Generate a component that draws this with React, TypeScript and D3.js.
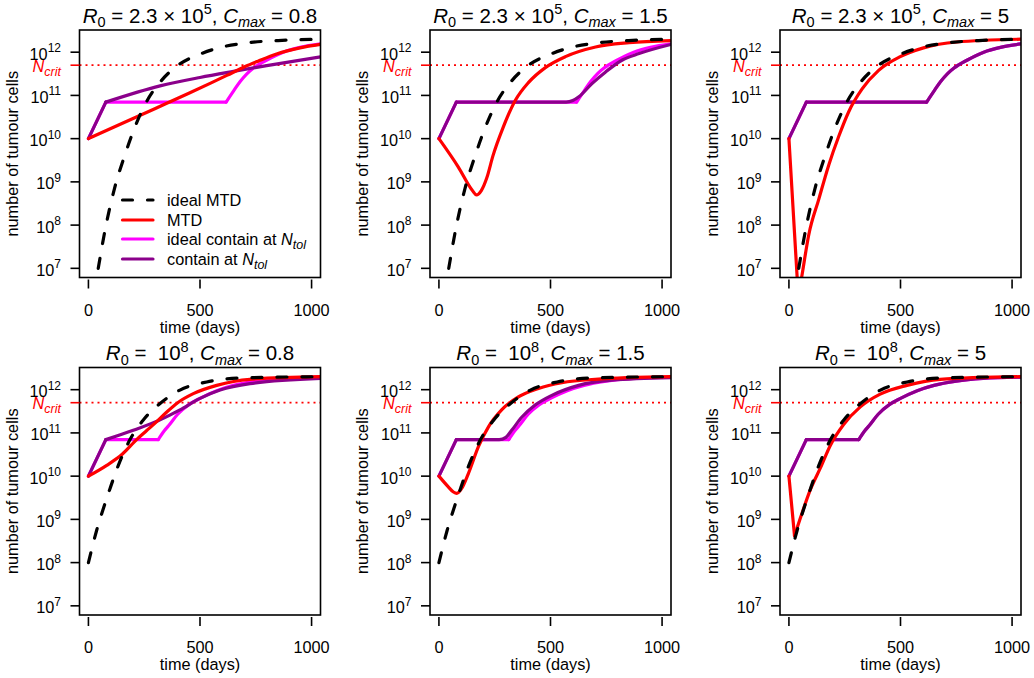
import React from 'react';
import * as d3 from 'd3';

type Pt = [number, number];

// ---------- axes / reference values ----------
const X_LIM: [number, number] = [0, 1000];
const Y_LIM: [number, number] = [1e7, 2e12];
const X_TICKS = [0, 500, 1000];
const Y_TICK_EXPONENTS = [7, 8, 9, 10, 11, 12];
const N_CRIT = 5e11;

const ROW_R0_TEXT = ['2.3 × 10', ' 10'];
const ROW_R0_EXP = ['5', '8'];
const COL_CMAX = ['0.8', '1.5', '5'];

const LEGEND_LABELS = ['ideal MTD', 'MTD', 'ideal contain at ', 'contain at '];
const LEGEND_HAS_NTOL = [false, false, true, true];

// ---------- series (time in days, number of tumour cells) ----------
// top row (R0 = 2.3e5)
const TOP_IDEAL_MTD: Pt[] = [[44, 1e7], [75, 7.9e7], [117, 7.1e8], [162, 4.0e9], [207, 1.78e10], [260, 7.1e10], [327, 2.2e11], [402, 5.0e11], [507, 9.3e11], [600, 1.32e12], [700, 1.62e12], [850, 1.86e12], [1040, 2.0e12]];
const TOP_IDEAL_CONTAIN: Pt[] = [[0, 1e10], [78, 7e10], [617, 7e10], [650, 1.26e11], [680, 2.1e11], [710, 3.16e11], [740, 4.3e11], [800, 6.6e11], [873, 1.0e12], [948, 1.29e12], [1040, 1.55e12]];
const TOP_IDEAL_CONTAIN_KINKS = [78, 617];

const P1_MTD: Pt[] = [[0, 1e10], [150, 2.24e10], [300, 5.0e10], [450, 1.12e11], [550, 1.95e11], [620, 2.9e11], [700, 4.6e11], [760, 6.2e11], [843, 9.1e11], [948, 1.26e12], [1040, 1.51e12]];
const P1_CONTAIN: Pt[] = [[0, 1e10], [78, 7e10], [321, 1.66e11], [500, 2.6e11], [650, 3.6e11], [799, 4.9e11], [1040, 7.8e11]];
const P1_CONTAIN_KINKS = [78];

const P2_MTD: Pt[] = [[0, 1e10], [87, 2.2e9], [150, 6.3e8], [168, 5.0e8], [190, 6.3e8], [215, 1.26e9], [242, 4.0e9], [287, 1.78e10], [342, 7.6e10], [402, 2.0e11], [477, 4.4e11], [567, 7.9e11], [702, 1.32e12], [852, 1.66e12], [1040, 1.86e12]];
const P2_CONTAIN: Pt[] = [[0, 1e10], [78, 7e10], [570, 7e10], [600, 7.6e10], [627, 9.3e10], [687, 1.9e11], [747, 3.5e11], [822, 6.6e11], [897, 9.3e11], [1040, 1.51e12]];
const P2_CONTAIN_KINKS = [78];

const P3_MTD: Pt[] = [[0, 1e10], [42, 2.2e6], [57, 6.2e6], [89, 6.0e7], [134, 4.0e8], [179, 2.5e9], [223, 1.12e10], [268, 4.2e10], [328, 1.41e11], [402, 3.8e11], [499, 7.9e11], [603, 1.26e12], [752, 1.72e12], [1040, 2.0e12]];
const P3_MTD_KINKS = [42];

// bottom row (R0 = 1e8)
const BOT_IDEAL_MTD: Pt[] = [[0, 1e8], [37, 5.6e8], [67, 1.78e9], [97, 5.2e9], [134, 1.78e10], [187, 7.1e10], [246, 2.0e11], [321, 4.8e11], [410, 9.8e11], [530, 1.51e12], [679, 1.86e12], [1040, 2.0e12]];
const BOT_IDEAL_CONTAIN: Pt[] = [[0, 1e10], [78, 7e10], [313, 7e10], [340, 1.12e11], [360, 1.48e11], [400, 2.7e11], [450, 4.5e11], [500, 6.3e11], [575, 9.5e11], [650, 1.26e12], [750, 1.58e12], [870, 1.82e12], [1040, 1.95e12]];
const BOT_IDEAL_CONTAIN_KINKS = [78, 313];

const P4_MTD: Pt[] = [[0, 1e10], [82, 1.78e10], [150, 3.16e10], [217, 7.1e10], [260, 1.12e11], [306, 1.82e11], [350, 3.0e11], [400, 5.0e11], [470, 8.1e11], [575, 1.26e12], [724, 1.74e12], [1040, 2.0e12]];
const P4_CONTAIN: Pt[] = [[0, 1e10], [78, 7e10], [201, 1.15e11], [321, 2.0e11], [410, 3.4e11], [500, 6.3e11], [590, 9.8e11], [724, 1.38e12], [1040, 1.82e12]];
const P4_CONTAIN_KINKS = [78];

const P5_MTD: Pt[] = [[0, 1e10], [40, 5.8e9], [65, 4.3e9], [80, 4.0e9], [100, 5.0e9], [132, 1.15e10], [177, 4.8e10], [222, 1.38e11], [281, 3.4e11], [356, 6.8e11], [446, 1.07e12], [551, 1.45e12], [700, 1.74e12], [1040, 2.0e12]];
const P5_CONTAIN: Pt[] = [[0, 1e10], [78, 7e10], [270, 7e10], [300, 7.9e10], [326, 1.15e11], [371, 2.3e11], [431, 4.4e11], [506, 7.4e11], [626, 1.26e12], [775, 1.66e12], [1040, 1.9e12]];
const P5_CONTAIN_KINKS = [78];

const P6_MTD: Pt[] = [[0, 1e10], [25, 4.2e8], [52, 1.1e9], [97, 5.0e9], [141, 1.55e10], [186, 5.2e10], [246, 1.58e11], [320, 4.0e11], [409, 7.9e11], [529, 1.26e12], [677, 1.74e12], [1040, 2.0e12]];
const P6_MTD_KINKS = [25];

// ---------- panel table built from the arrays ----------
type Series = { data: Pt[]; kinks: number[] };
type Panel = { row: number; col: number; ideal: Series; mtd: Series; idealContain: Series; contain: Series };

const PANELS: Panel[] = [
  { row: 0, col: 0, ideal: { data: TOP_IDEAL_MTD, kinks: [] }, mtd: { data: P1_MTD, kinks: [] }, idealContain: { data: TOP_IDEAL_CONTAIN, kinks: TOP_IDEAL_CONTAIN_KINKS }, contain: { data: P1_CONTAIN, kinks: P1_CONTAIN_KINKS } },
  { row: 0, col: 1, ideal: { data: TOP_IDEAL_MTD, kinks: [] }, mtd: { data: P2_MTD, kinks: [] }, idealContain: { data: TOP_IDEAL_CONTAIN, kinks: TOP_IDEAL_CONTAIN_KINKS }, contain: { data: P2_CONTAIN, kinks: P2_CONTAIN_KINKS } },
  { row: 0, col: 2, ideal: { data: TOP_IDEAL_MTD, kinks: [] }, mtd: { data: P3_MTD, kinks: P3_MTD_KINKS }, idealContain: { data: TOP_IDEAL_CONTAIN, kinks: TOP_IDEAL_CONTAIN_KINKS }, contain: { data: TOP_IDEAL_CONTAIN, kinks: TOP_IDEAL_CONTAIN_KINKS } },
  { row: 1, col: 0, ideal: { data: BOT_IDEAL_MTD, kinks: [] }, mtd: { data: P4_MTD, kinks: [] }, idealContain: { data: BOT_IDEAL_CONTAIN, kinks: BOT_IDEAL_CONTAIN_KINKS }, contain: { data: P4_CONTAIN, kinks: P4_CONTAIN_KINKS } },
  { row: 1, col: 1, ideal: { data: BOT_IDEAL_MTD, kinks: [] }, mtd: { data: P5_MTD, kinks: [] }, idealContain: { data: BOT_IDEAL_CONTAIN, kinks: BOT_IDEAL_CONTAIN_KINKS }, contain: { data: P5_CONTAIN, kinks: P5_CONTAIN_KINKS } },
  { row: 1, col: 2, ideal: { data: BOT_IDEAL_MTD, kinks: [] }, mtd: { data: P6_MTD, kinks: P6_MTD_KINKS }, idealContain: { data: BOT_IDEAL_CONTAIN, kinks: BOT_IDEAL_CONTAIN_KINKS }, contain: { data: BOT_IDEAL_CONTAIN, kinks: BOT_IDEAL_CONTAIN_KINKS } },
];

// ---------- layout / style ----------
const W = 1034;
const H = 678;
const BOX_LEFT = [79.5, 430, 780];
const BOX_TOP = [30, 367.5];
const BOX_W = 241;
const BOX_H = 247.5;
const FONT = '"Liberation Sans", Arial, Helvetica, sans-serif';
const C_IDEAL = '#000000';
const C_MTD = '#FF0000';
const C_IDEAL_CONTAIN = '#FF00FF';
const C_CONTAIN = '#8B008B';
const LW = 3.2;
const DASH = '10 15';

function splitAtKinks(pts: Pt[], kinks: number[]): Pt[][] {
  const segs: Pt[][] = [];
  let cur: Pt[] = [];
  pts.forEach((p, i) => {
    cur.push(p);
    if (i > 0 && i < pts.length - 1 && kinks.includes(p[0])) {
      segs.push(cur);
      cur = [p];
    }
  });
  segs.push(cur);
  return segs;
}

function PanelView({ p, idx }: { p: Panel; idx: number }) {
  const left = BOX_LEFT[p.col];
  const top = BOX_TOP[p.row];
  const bottom = top + BOX_H;
  const right = left + BOX_W;
  const xPad = 0.04 * (X_LIM[1] - X_LIM[0]);
  const x = d3.scaleLinear().domain([X_LIM[0] - xPad, X_LIM[1] + xPad]).range([left, right]);
  const lo = Math.log10(Y_LIM[0]);
  const hi = Math.log10(Y_LIM[1]);
  const yPad = 0.04 * (hi - lo);
  const y = d3.scaleLog().domain([Math.pow(10, lo - yPad), Math.pow(10, hi + yPad)]).range([bottom, top]);
  const line = d3.line<Pt>().x(d => x(d[0])).y(d => y(d[1])).curve(d3.curveMonotoneX);
  const clipId = `clip-${idx}`;

  const drawSeries = (s: Series, color: string, dashed: boolean, key: string) =>
    splitAtKinks(s.data, s.kinks).map((seg, i) => (
      <path key={`${key}-${i}`} d={line(seg) || ''} fill="none" stroke={color} strokeWidth={LW}
        strokeLinecap="round" strokeLinejoin="round" strokeDasharray={dashed ? DASH : undefined} />
    ));

  const yc = y(N_CRIT);
  const cx = (left + right) / 2;
  const sub = 14.5;

  return (
    <g>
      <defs>
        <clipPath id={clipId}>
          <rect x={left} y={top} width={BOX_W} height={BOX_H} />
        </clipPath>
      </defs>
      {/* title */}
      <text x={cx} y={top - 7.5} textAnchor="middle" fontSize={20.5} style={{ whiteSpace: 'pre' }}>
        <tspan fontStyle="italic">R</tspan>
        <tspan dy={4.5} fontSize={sub}>0</tspan>
        <tspan dy={-4.5}>{` = ${ROW_R0_TEXT[p.row]}`}</tspan>
        <tspan dy={-8.5} fontSize={sub}>{ROW_R0_EXP[p.row]}</tspan>
        <tspan dy={8.5}>{', '}</tspan>
        <tspan fontStyle="italic">C</tspan>
        <tspan dy={4.5} fontSize={sub} fontStyle="italic">max</tspan>
        <tspan dy={-4.5}>{` = ${COL_CMAX[p.col]}`}</tspan>
      </text>

      {/* series */}
      <g clipPath={`url(#${clipId})`}>
        <line x1={left} x2={right} y1={yc} y2={yc} stroke={C_MTD} strokeWidth={1.8} strokeDasharray="2 4" />
        {drawSeries(p.idealContain, C_IDEAL_CONTAIN, false, 'ic')}
        {drawSeries(p.contain, C_CONTAIN, false, 'c')}
        {drawSeries(p.mtd, C_MTD, false, 'm')}
        {drawSeries(p.ideal, C_IDEAL, true, 'i')}
      </g>

      {/* box */}
      <rect x={left} y={top} width={BOX_W} height={BOX_H} fill="none" stroke="#000" strokeWidth={1.6} />

      {/* x axis */}
      {X_TICKS.map(t => (
        <g key={`xt${t}`}>
          <line x1={x(t)} x2={x(t)} y1={bottom + 2} y2={bottom + 11} stroke="#000" strokeWidth={1.6} />
          <text x={x(t)} y={bottom + 38} textAnchor="middle" fontSize={16.3}>{t}</text>
        </g>
      ))}
      <text x={cx} y={bottom + 55} textAnchor="middle" fontSize={16.3}>time (days)</text>

      {/* y axis */}
      {Y_TICK_EXPONENTS.map(e => {
        const ty = y(Math.pow(10, e));
        return (
          <g key={`yt${e}`}>
            <line x1={left - 9} x2={left} y1={ty} y2={ty} stroke="#000" strokeWidth={1.6} />
            <text x={left - 18.5} y={ty + 7.5} textAnchor="end" fontSize={16.3}>
              10<tspan dy={-7.5} fontSize={12}>{e}</tspan>
            </text>
          </g>
        );
      })}
      <line x1={left - 9} x2={left} y1={yc} y2={yc} stroke={C_MTD} strokeWidth={1.6} />
      <text x={left - 18.5} y={yc + 6.5} textAnchor="end" fontSize={16.3} fill={C_MTD} fontStyle="italic">
        N<tspan dy={4} fontSize={12.5}>crit</tspan>
      </text>
      <text transform={`translate(${left - 62},${(top + bottom) / 2}) rotate(-90)`} textAnchor="middle" fontSize={16.3}>
        number of tumour cells
      </text>

      {/* legend (first panel only) */}
      {idx === 0 && LEGEND_LABELS.map((lab, i) => {
        const ly = [200, 220, 239, 259][i];
        const colors = [C_IDEAL, C_MTD, C_IDEAL_CONTAIN, C_CONTAIN];
        return (
          <g key={`lg${i}`}>
            <line x1={left + 43} x2={left + 73.5} y1={ly} y2={ly} stroke={colors[i]} strokeWidth={LW}
              strokeLinecap="round" strokeDasharray={i === 0 ? DASH : undefined} />
            <text x={left + 87.5} y={ly + 5.5} fontSize={16.3} style={{ whiteSpace: 'pre' }}>
              {lab}
              {LEGEND_HAS_NTOL[i] && <tspan fontStyle="italic">N</tspan>}
              {LEGEND_HAS_NTOL[i] && <tspan dy={4} fontSize={12.5} fontStyle="italic">tol</tspan>}
            </text>
          </g>
        );
      })}
    </g>
  );
}

export default function App() {
  return (
    <svg width={W} height={H} viewBox={`0 0 ${W} ${H}`}
      style={{ position: 'absolute', left: 0, top: 0, background: '#fff', fontFamily: FONT }}>
      <rect x={0} y={0} width={W} height={H} fill="#fff" />
      {PANELS.map((p, i) => <PanelView key={i} p={p} idx={i} />)}
    </svg>
  );
}
